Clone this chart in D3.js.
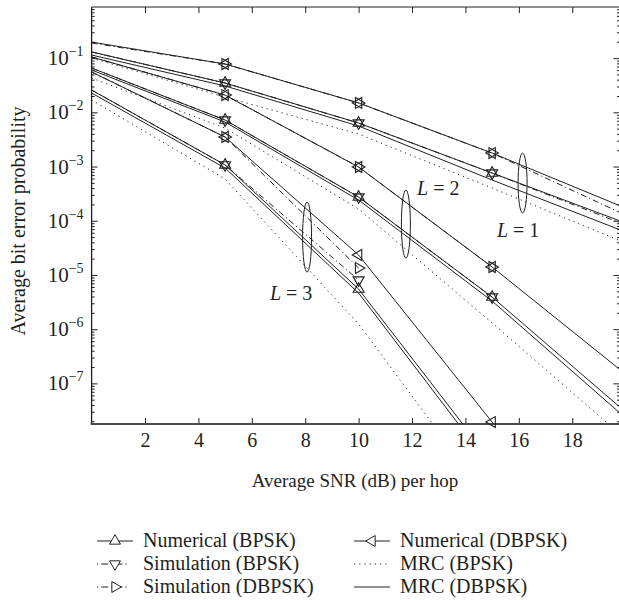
<!DOCTYPE html>
<html>
<head>
<meta charset="utf-8">
<script src="https://cdn.jsdelivr.net/npm/d3@7"></script>
<style>
  body { margin: 0; background: #fff; }
  svg text { font-family: "Liberation Serif", "Times New Roman", serif; fill: #231f20; }
</style>
</head>
<body>
<svg id="chart" width="619" height="600"></svg>
<script>
// SNR points (dB) of the curves, markers sit on 5, 10, 15
const snr = [0, 5, 10, 15, 20]

// L = 1
const numDbpsk1 = [0.198, 0.0778, 0.0149, 1.77e-3, 1.71e-4]
const simDbpsk1 = [0.19, 0.0778, 0.0149, 1.77e-3, 1.27e-4]
const numBpsk1 = [0.13, 0.0347, 6.35e-3, 7.59e-4, 9.07e-5]
const simBpsk1 = [0.13, 0.0347, 6.35e-3, 7.59e-4, 8.33e-5]
const mrcDbpsk1 = [0.114, 0.0306, 5.59e-3, 5.64e-4, 6.19e-5]
const mrcBpsk1 = [0.1, 0.0191, 3.98e-3, 4.01e-4, 3.88e-5]

// L = 2
const numDbpsk2 = [0.105, 0.0208, 9.8e-4, 1.4e-5, 1.48e-7]
const simDbpsk2 = [0.105, 0.0208, 9.8e-4, 1.4e-5]
const numBpsk2 = [0.0656, 7.21e-3, 2.74e-4, 3.91e-6, 2.95e-8]
const simBpsk2 = [0.0656, 7.21e-3, 2.74e-4, 3.91e-6]
const mrcDbpsk2 = [0.0604, 6.62e-3, 2.41e-4, 3.3e-6, 2.29e-8]
const mrcBpsk2 = [0.043, 5.13e-3, 1.64e-4, 1.3e-6, 9.4e-9]

// L = 3
const numDbpsk3 = [0.0555, 3.5e-3, 2.33e-5, 1.93e-8, 1.7e-11]
const simDbpsk3 = [0.0555, 3.5e-3, 1.34e-5]
const numBpsk3 = [0.0258, 1.07e-3, 5.49e-6, 3.53e-9]
const simBpsk3 = [0.0258, 1.07e-3, 8.05e-6]
const mrcDbpsk3 = [0.0227, 9.38e-4, 4.63e-6, 2.74e-9]
const mrcBpsk3 = [0.0169, 5.88e-4, 1.24e-6, 5.93e-10]

// axes
const xTicks = [2, 4, 6, 8, 10, 12, 14, 16, 18]
const yExponents = [-1, -2, -3, -4, -5, -6, -7]

// diversity order notes: ellipse at snr, spanning ber top..bottom; label at snr/ber
const noteNames = ["1", "2", "3"]
const ellipseSnr = [16.14, 11.77, 8.07]
const ellipseTop = [1.77e-3, 3.68e-4, 2.21e-4]
const ellipseBottom = [1.39e-4, 2.05e-5, 1.13e-5]
const labelSnr = [15.18, 12.19, 6.68]
const labelBer = [5.0e-5, 2.98e-4, 3.44e-6]

const legendNames = ["Numerical (BPSK)", "Simulation (BPSK)", "Simulation (DBPSK)",
                     "Numerical (DBPSK)", "MRC (BPSK)", "MRC (DBPSK)"]

const svg = d3.select("#chart")
const ink = "#231f20"

let x = d3.scaleLinear().domain([0, 19.77]).range([91.6, 619.5])
let y = d3.scaleLog().domain([1.78e-8, 0.877]).range([424, 7])

const dashes = {
    solid: null,
    dashdot: "6,3,1.2,3",
    dotted: "1.2,4"
}

// one entry per drawn curve
let series = [
    [mrcBpsk1, "dotted", null], [mrcBpsk2, "dotted", null], [mrcBpsk3, "dotted", null],
    [simBpsk1, "dashdot", "down"], [simBpsk2, "dashdot", "down"], [simBpsk3, "dashdot", "down"],
    [simDbpsk1, "dashdot", "right"], [simDbpsk2, "dashdot", "right"], [simDbpsk3, "dashdot", "right"],
    [mrcDbpsk1, "solid", null], [mrcDbpsk2, "solid", null], [mrcDbpsk3, "solid", null],
    [numBpsk1, "solid", "up"], [numBpsk2, "solid", "up"], [numBpsk3, "solid", "up"],
    [numDbpsk1, "solid", "left"], [numDbpsk2, "solid", "left"], [numDbpsk3, "solid", "left"]
].map(([ber, style, mark]) => ({
    points: ber.map((v, i) => [snr[i], v]),
    style: style,
    mark: mark
}))

const rotation = { up: 0, down: 180, right: 90, left: -90 }
const tri = d3.symbol().type(d3.symbolTriangle).size(52)

svg.append("defs").append("clipPath")
    .attr("id", "clip")
  .append("rect")
    .attr("x", x.range()[0])
    .attr("y", y.range()[1])
    .attr("width", x.range()[1] - x.range()[0])
    .attr("height", y.range()[0] - y.range()[1])

// ticks
const majors = yExponents.map(e => Math.pow(10, e))
let minors = []
for (let e = -8; e <= -1; e++) {
    for (let m = 2; m <= 9; m++) {
        let v = m * Math.pow(10, e)
        if (v >= y.domain()[0] && v <= y.domain()[1]) minors.push(v)
    }
}

function cleanAxis(g) {
    g.select(".domain").remove()
    g.selectAll(".tick line").attr("stroke", ink)
}

svg.append("g")
    .attr("transform", "translate(0," + y.range()[0] + ")")
    .call(d3.axisBottom(x).tickValues(xTicks).tickSize(-6).tickPadding(9))
    .call(cleanAxis)
    .selectAll("text")
        .style("font-size", "20px")
        .style("font-family", "Liberation Serif")
        .attr("fill", ink)

svg.append("g")
    .attr("transform", "translate(0," + y.range()[1] + ")")
    .call(d3.axisTop(x).tickValues(xTicks).tickSize(-6).tickFormat(""))
    .call(cleanAxis)

const left = x.range()[0], right = x.range()[1]
svg.append("g")
    .attr("transform", "translate(" + left + ",0)")
    .call(d3.axisLeft(y).tickValues(majors).tickSize(-6).tickFormat(""))
    .call(cleanAxis)
svg.append("g")
    .attr("transform", "translate(" + left + ",0)")
    .call(d3.axisLeft(y).tickValues(minors).tickSize(-3).tickFormat(""))
    .call(cleanAxis)
svg.append("g")
    .attr("transform", "translate(" + right + ",0)")
    .call(d3.axisRight(y).tickValues(majors).tickSize(-6).tickFormat(""))
    .call(cleanAxis)
svg.append("g")
    .attr("transform", "translate(" + right + ",0)")
    .call(d3.axisRight(y).tickValues(minors).tickSize(-2.5).tickFormat(""))
    .call(cleanAxis)

// y labels as 10^n
let yLabels = svg.append("g").selectAll("text")
    .data(yExponents)
    .enter().append("text")
        .attr("x", left - 8)
        .attr("y", e => y(Math.pow(10, e)) + 7)
        .style("text-anchor", "end")
        .style("font-size", "21px")
yLabels.append("tspan").text("10")
yLabels.append("tspan")
    .attr("dy", -9)
    .style("font-size", "14px")
    .text(e => "\u2212" + (-e))

// frame
svg.append("line")
    .attr("x1", left).attr("x2", right)
    .attr("y1", y.range()[1]).attr("y2", y.range()[1])
    .attr("stroke", ink).attr("stroke-width", 1)
svg.append("line")
    .attr("x1", left).attr("x2", left)
    .attr("y1", y.range()[1]).attr("y2", y.range()[0])
    .attr("stroke", ink).attr("stroke-width", 1.3)
svg.append("line")
    .attr("x1", left - 1).attr("x2", right)
    .attr("y1", y.range()[0]).attr("y2", y.range()[0])
    .attr("stroke", "#4d4d4d").attr("stroke-width", 2.2)

// curves
let line = d3.line()
    .x(d => x(d[0]))
    .y(d => y(d[1]))

svg.append("g")
    .attr("clip-path", "url(#clip)")
    .selectAll("path")
    .data(series)
    .enter().append("path")
        .attr("d", d => line(d.points))
        .attr("fill", "none")
        .attr("stroke", ink)
        .attr("stroke-width", 1)
        .attr("stroke-dasharray", d => dashes[d.style])

let markPoints = []
series.filter(s => s.mark).forEach(s => {
    s.points.forEach(p => {
        if (p[0] >= 5 && p[0] <= 15 && y(p[1]) <= y.range()[0] + 2) markPoints.push({ p: p, mark: s.mark })
    })
})

svg.append("g").selectAll("path")
    .data(markPoints)
    .enter().append("path")
        .attr("d", tri)
        .attr("transform", d => "translate(" + x(d.p[0]) + "," + y(d.p[1]) + ") rotate(" + rotation[d.mark] + ")")
        .attr("fill", "none")
        .attr("stroke", ink)
        .attr("stroke-width", 1.1)

// ellipses and L labels
svg.append("g").selectAll("ellipse")
    .data(noteNames)
    .enter().append("ellipse")
        .attr("cx", (d, i) => x(ellipseSnr[i]))
        .attr("cy", (d, i) => (y(ellipseTop[i]) + y(ellipseBottom[i])) / 2)
        .attr("rx", 4.5)
        .attr("ry", (d, i) => (y(ellipseBottom[i]) - y(ellipseTop[i])) / 2)
        .attr("fill", "none")
        .attr("stroke", ink)
        .attr("stroke-width", 1)

let notes = svg.append("g").selectAll("text")
    .data(noteNames)
    .enter().append("text")
        .attr("x", (d, i) => x(labelSnr[i]))
        .attr("y", (d, i) => y(labelBer[i]))
        .style("font-size", "20px")
notes.append("tspan").style("font-style", "italic").text("L")
notes.append("tspan").text(d => " = " + d)

// axis titles
svg.append("text")
    .attr("x", 355)
    .attr("y", 487)
    .style("text-anchor", "middle")
    .style("font-size", "19px")
    .text("Average SNR (dB) per hop")

svg.append("text")
    .attr("transform", "translate(25,221) rotate(-90)")
    .style("text-anchor", "middle")
    .style("font-size", "20px")
    .text("Average bit error probability")

// legend
const legendStyle = [["solid", "up"], ["dashdot", "down"], ["dashdot", "right"],
                     ["solid", "left"], ["dotted", null], ["solid", null]]
let legend = svg.append("g").selectAll("g")
    .data(legendNames)
    .enter().append("g")
        .attr("transform", (d, i) => "translate(" + (i < 3 ? 97 : 354) + "," + (541 + (i % 3) * 23) + ")")

legend.append("line")
    .attr("x1", 0).attr("x2", (d, i) => legendStyle[i][0] == "dashdot" ? 31 : 36)
    .attr("stroke", ink)
    .attr("stroke-width", 1)
    .attr("stroke-dasharray", (d, i) => legendStyle[i][0] == "dashdot" ? "1.2,3,7,3" : dashes[legendStyle[i][0]])

legend.filter((d, i) => legendStyle[i][1])
    .append("path")
        .attr("d", tri)
        .attr("transform", d => "translate(18,0) rotate(" + rotation[legendStyle[legendNames.indexOf(d)][1]] + ")")
        .attr("fill", "#fff")
        .attr("stroke", ink)

legend.append("text")
    .attr("x", 46)
    .attr("y", 6)
    .style("font-size", "20px")
    .text(d => d)
</script>
</body>
</html>
